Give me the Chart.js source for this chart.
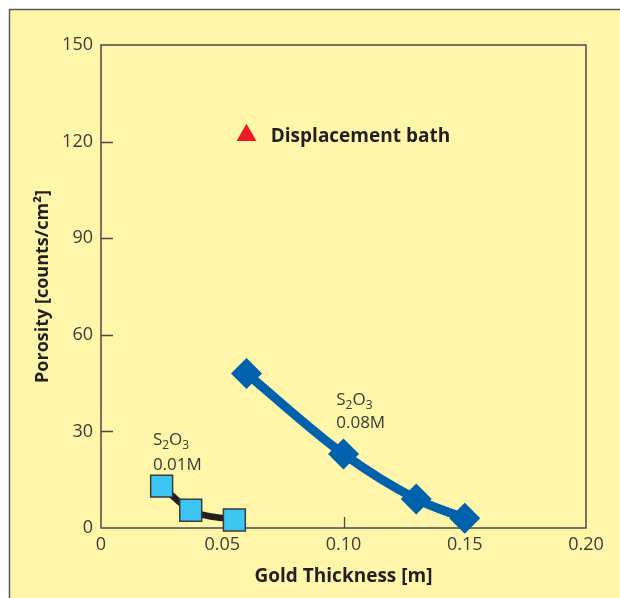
<!DOCTYPE html>
<html><head><meta charset="utf-8">
<script src="https://cdn.jsdelivr.net/npm/chart.js@4.4.0/dist/chart.umd.min.js"></script>
<style>html,body{margin:0;padding:0;background:#fff;}#wrap{width:620px;height:598px;position:relative}</style>
</head><body><div id="wrap"><canvas id="c" width="620" height="598"></canvas></div>
<script>
// ---- data ----
const thickness001 = [0.025, 0.037, 0.055];
const porosity001 = [13, 5.5, 2.5];
const thickness008 = [0.06, 0.10, 0.13, 0.15];
const porosity008 = [48, 23, 9, 3];
const displacementX = [0.06];
const displacementY = [122];
const xTickValues = [0, 0.05, 0.10, 0.15, 0.20];
const xTickLabels = ['0', '0.05', '0.10', '0.15', '0.20'];
const yTickValues = [0, 30, 60, 90, 120, 150];
const yTickLabels = ['0', '30', '60', '90', '120', '150'];
const xInnerTicks = [0.10];
const yInnerTicks = [30, 60, 90, 120];
const xTitle = 'Gold Thickness [m]';
const yTitle = 'Porosity [counts/cm²]';
const legendText = 'Displacement bath';
const label001 = ['S', '2', 'O', '3', '0.01M'];
const label008 = ['S', '2', 'O', '3', '0.08M'];
// annotation anchors (data units)
const label001Pos = {x: 0.0214, y1: 25.8, y2: 18};
const label008Pos = {x: 0.097, y1: 38.3, y2: 31};
const legendPos = {x: 0.07, y: 121.7};

const FONT = "'Open Sans', 'Noto Sans', sans-serif";

function pts(xs, ys) { return xs.map((v, i) => ({x: v, y: ys[i]})); }

function drawChem(ctx, x, y, parts) {
  ctx.textAlign = 'left';
  ctx.textBaseline = 'alphabetic';
  let cx = x;
  parts.slice(0, 4).forEach((p, i) => {
    const sub = i % 2 === 1;
    ctx.font = (sub ? '12px ' : '17px ') + FONT;
    ctx.fillText(p, cx, y + (sub ? 4 : 0));
    cx += ctx.measureText(p).width;
  });
}

const decor = {
  id: 'decor',
  beforeDraw(chart) {
    const ctx = chart.ctx;
    ctx.save();
    ctx.fillStyle = '#ffffff';
    ctx.fillRect(0, 0, 620, 598);
    ctx.fillStyle = '#fff6a9';
    ctx.fillRect(9, 9, 620, 598);
    ctx.strokeStyle = '#5a5a5a';
    ctx.lineWidth = 1.5;
    ctx.beginPath();
    ctx.moveTo(9.5, 598); ctx.lineTo(9.5, 9.5); ctx.lineTo(620, 9.5);
    ctx.stroke();
    ctx.restore();
  },
  beforeDatasetsDraw(chart) {
    const {ctx, chartArea: a, scales: {x, y}} = chart;
    ctx.save();
    ctx.strokeStyle = '#4a4a4a';
    ctx.lineWidth = 1.5;
    ctx.strokeRect(a.left, a.top, a.right - a.left, a.bottom - a.top);
    ctx.lineWidth = 1.3;
    ctx.beginPath();
    yInnerTicks.forEach(v => { const py = Math.round(y.getPixelForValue(v)) + 0.5; ctx.moveTo(a.left, py); ctx.lineTo(a.left + 12, py); });
    xInnerTicks.forEach(v => { const px = Math.round(x.getPixelForValue(v)) + 0.5; ctx.moveTo(px, a.bottom); ctx.lineTo(px, a.bottom - 11); });
    ctx.stroke();
    ctx.restore();
  },
  afterDatasetsDraw(chart) {
    const {ctx, scales: {x, y}} = chart;
    ctx.save();
    ctx.fillStyle = '#3a3a3a';
    drawChem(ctx, x.getPixelForValue(label001Pos.x), y.getPixelForValue(label001Pos.y1), label001);
    ctx.font = '17px ' + FONT;
    ctx.fillText(label001[4], x.getPixelForValue(label001Pos.x), y.getPixelForValue(label001Pos.y2));
    drawChem(ctx, x.getPixelForValue(label008Pos.x), y.getPixelForValue(label008Pos.y1), label008);
    ctx.font = '17px ' + FONT;
    ctx.fillText(label008[4], x.getPixelForValue(label008Pos.x), y.getPixelForValue(label008Pos.y2));
    ctx.fillStyle = '#231f20';
    ctx.font = 'bold 19px ' + FONT;
    ctx.textBaseline = 'middle';
    ctx.fillText(legendText, x.getPixelForValue(legendPos.x), y.getPixelForValue(legendPos.y));
    ctx.restore();
  }
};

new Chart(document.getElementById('c'), {
  type: 'scatter',
  data: {
    datasets: [
      {
        label: 'Displacement bath',
        data: pts(displacementX, displacementY),
        pointStyle: 'triangle', pointRadius: 11.5,
        backgroundColor: '#ec1c24', borderColor: '#ec1c24', borderWidth: 0,
        showLine: false, clip: false
      },
      {
        label: 'S2O3 0.08M',
        data: pts(thickness008, porosity008),
        showLine: true, cubicInterpolationMode: 'monotone',
        borderColor: '#0062ad', borderWidth: 9,
        pointStyle: 'rectRot', pointRadius: 15.5,
        pointBackgroundColor: '#0062ad', pointBorderColor: '#0062ad', pointBorderWidth: 0,
        clip: false
      },
      {
        label: 'S2O3 0.01M',
        data: pts(thickness001, porosity001),
        showLine: true, cubicInterpolationMode: 'monotone',
        borderColor: '#231f20', borderWidth: 6.5,
        pointStyle: 'rect', pointRadius: 15.5,
        pointBackgroundColor: '#3ec6f3', pointBorderColor: '#3a3a3a', pointBorderWidth: 1.5,
        clip: false
      }
    ]
  },
  options: {
    responsive: false,
    devicePixelRatio: 1,
    animation: false,
    layout: {padding: {left: 0, right: 34, top: 45, bottom: 0}},
    plugins: {legend: {display: false}, tooltip: {enabled: false}},
    scales: {
      x: {
        type: 'linear', min: 0, max: 0.2,
        afterBuildTicks: s => { s.ticks = xTickValues.map(v => ({value: v})); },
        afterFit: s => { s.height = 70; },
        grid: {display: false, drawTicks: false},
        border: {display: false},
        ticks: {
          autoSkip: false, maxRotation: 0, padding: 6, color: '#3c3c3c',
          font: {family: FONT, size: 18},
          callback: (v) => { const i = xTickValues.findIndex(t => Math.abs(t - v) < 1e-9); return i >= 0 ? xTickLabels[i] : ''; }
        },
        title: {display: true, text: xTitle, color: '#231f20', font: {family: FONT, size: 19, weight: 'bold'}, padding: {top: 0, bottom: 10}}
      },
      y: {
        type: 'linear', min: 0, max: 150,
        afterBuildTicks: s => { s.ticks = yTickValues.map(v => ({value: v})); },
        afterFit: s => { s.width = 101; },
        grid: {display: false, drawTicks: false},
        border: {display: false},
        ticks: {
          autoSkip: false, padding: 8, color: '#3c3c3c',
          font: {family: FONT, size: 18},
          callback: (v) => { const i = yTickValues.indexOf(v); return i >= 0 ? yTickLabels[i] : ''; }
        },
        title: {display: true, text: yTitle, color: '#231f20', font: {family: FONT, size: 18, weight: 'bold'}, padding: {top: 32, bottom: 0}}
      }
    }
  },
  plugins: [decor]
});
</script>
</body></html>
